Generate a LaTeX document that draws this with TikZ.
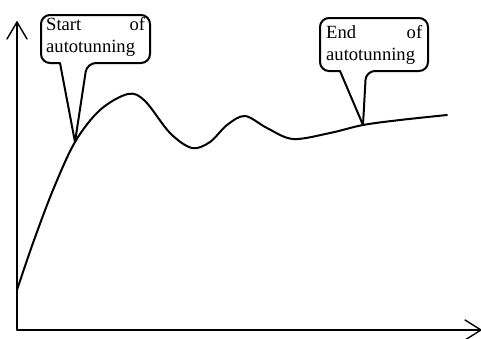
\documentclass[tikz,border=0pt]{standalone}
\usepackage{fontspec}
\setmainfont{Liberation Serif}
\begin{document}
\begin{tikzpicture}[x=1pt,y=-1pt,
  axis/.style={line width=1.4pt,line cap=round,line join=round},
  curvestyle/.style={line width=2pt,line cap=round},
  callout/.style={line width=2pt,line join=round},
  txt/.style={inner sep=0pt,font=\fontsize{18.6}{22}\selectfont,align=left}]
\useasboundingbox (0,0) rectangle (481,338);
% axes
\coordinate (O) at (17,330);
\coordinate (Ytop) at (17,22);
\coordinate (Xend) at (481,330);
\draw[axis] (O) -- (Ytop);
\draw[axis] (7,39) -- (Ytop) -- (27,39);
\draw[axis] (O) -- (Xend);
\draw[axis] (465,320) -- (Xend) -- (465,340);
% response curve
\coordinate (S) at (75,142);
\coordinate (E) at (363,125);
\draw[curvestyle] plot[smooth,tension=0.55] coordinates {
 (17,290) (33,243) (53,190) (75,142) (100,110) (128,94) (145,101) (170,133) (192,148)
 (210,142) (227,125) (245,116) (267,128) (293,139) (330,133) (363,125) (400,120) (447,115)};
% callouts
\draw[callout,rounded corners=9pt] (41,15) -- (150,15) -- (150,63) -- (87,63)
  [sharp corners] -- (S) -- (60,63) [rounded corners=9pt] -- (41,63) -- cycle;
\draw[callout,rounded corners=9pt] (320,18) -- (428,18) -- (428,71) -- (366,71)
  [sharp corners] -- (E) -- (340,71) [rounded corners=9pt] -- (320,71) -- cycle;
\node[txt,anchor=north west] (startlbl) at (46,17) {\makebox[99pt][s]{Start\hfill of}\\autotunning};
\node[txt,anchor=north west] (endlbl) at (326,25) {\makebox[96pt][s]{End\hfill of}\\autotunning};
\end{tikzpicture}
\end{document}
